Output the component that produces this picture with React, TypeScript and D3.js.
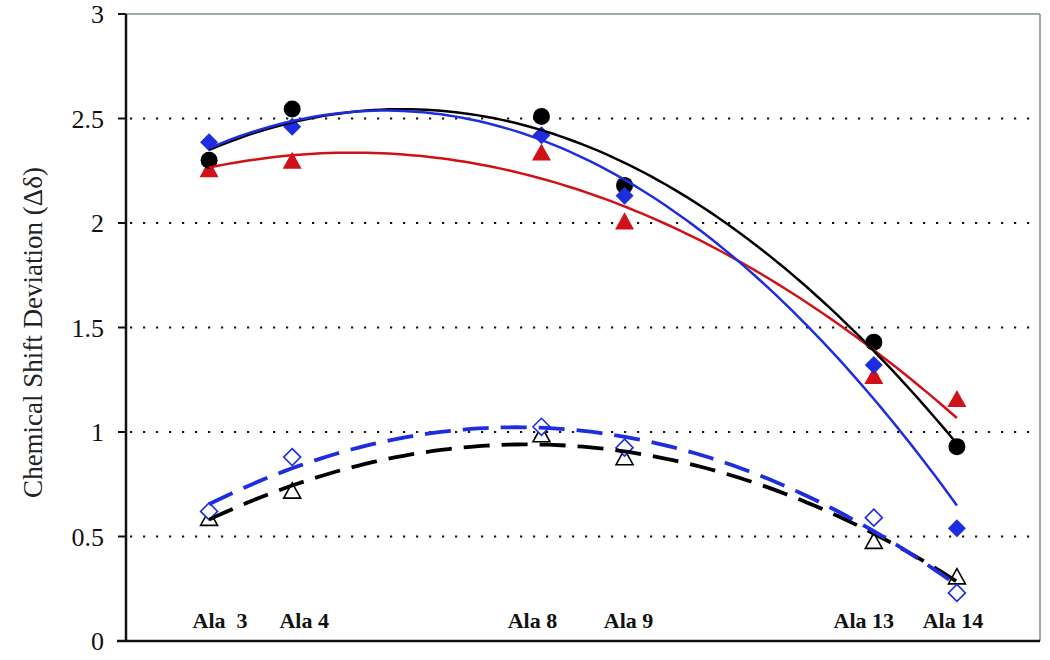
import React from "react";
import * as d3 from "d3";

const categories = ["Ala  3", "Ala 4", "Ala 8", "Ala 9", "Ala 13", "Ala 14"];
const xValues = [1, 2, 5, 6, 9, 10];
const blackCircle = [2.3, 2.545, 2.51, 2.18, 1.43, 0.93];
const blueDiamond = [2.386, 2.46, 2.42, 2.13, 1.32, 0.54];
const redTriangle = [2.26, 2.3, 2.34, 2.01, 1.27, 1.16];
const openDiamond = [0.62, 0.88, 1.025, 0.925, 0.59, 0.23];
const openTriangle = [0.59, 0.72, 0.99, 0.88, 0.48, 0.31];
const yTicks = [0, 0.5, 1, 1.5, 2, 2.5, 3];
const gridTicks = [0.5, 1, 1.5, 2, 2.5];
const labelOffsets = [11, 12, -9, 4, -10, -4];

const W = 1050;
const H = 660;
const left = 126;
const right = 1040;
const top = 14;
const bottom = 641;

const x = d3.scaleLinear().domain([0, 11]).range([left, right]);
const y = d3.scaleLinear().domain([0, 3]).range([bottom, top]);

function quadFit(xs: number[], ys: number[]) {
  const n = xs.length;
  const m = d3.mean(xs) as number;
  const u = xs.map((v) => v - m);
  const su2 = d3.sum(u, (v) => v * v);
  const su3 = d3.sum(u, (v) => v * v * v);
  const su4 = d3.sum(u, (v) => v ** 4);
  const sy = d3.sum(ys);
  const suy = d3.sum(u.map((v, i) => v * ys[i]));
  const su2y = d3.sum(u.map((v, i) => v * v * ys[i]));
  const A = [
    [n, 0, su2, sy],
    [0, su2, su3, suy],
    [su2, su3, su4, su2y],
  ];
  for (let i = 0; i < 3; i++) {
    let p = i;
    for (let r = i + 1; r < 3; r++) if (Math.abs(A[r][i]) > Math.abs(A[p][i])) p = r;
    [A[i], A[p]] = [A[p], A[i]];
    for (let r = 0; r < 3; r++) {
      if (r === i) continue;
      const f = A[r][i] / A[i][i];
      for (let c = i; c < 4; c++) A[r][c] -= f * A[i][c];
    }
  }
  const a = A[0][3] / A[0][0];
  const b = A[1][3] / A[1][1];
  const c = A[2][3] / A[2][2];
  return (xv: number) => {
    const t = xv - m;
    return a + b * t + c * t * t;
  };
}

function trendPath(ys: number[]) {
  const f = quadFit(xValues, ys);
  const x0 = xValues[0];
  const x1 = xValues[xValues.length - 1];
  const pts = d3.range(0, 101).map((i) => x0 + ((x1 - x0) * i) / 100);
  return d3
    .line<number>()
    .x((v) => x(v))
    .y((v) => y(f(v)))(pts) as string;
}

const BLUE = "#1e2de0";
const RED = "#d01218";
const serif = '"Liberation Serif", "DejaVu Serif", Tinos, "Times New Roman", Times, serif';

const diamond = (cx: number, cy: number, r: number) =>
  `M${cx},${cy - r}L${cx + r},${cy}L${cx},${cy + r}L${cx - r},${cy}Z`;
const triangle = (cx: number, cy: number, s: number) => {
  const h = s * 0.9;
  return `M${cx},${cy - h / 2}L${cx + s / 2},${cy + h / 2}L${cx - s / 2},${cy + h / 2}Z`;
};

export default function App() {
  return (
    <svg
      width={W}
      height={H}
      style={{ position: "absolute", left: 0, top: 0, background: "#fff", fontFamily: serif }}
    >
      <rect x={0} y={0} width={W} height={H} fill="#fff" />
      {gridTicks.map((t) => (
        <line
          key={"g" + t}
          x1={left + 4}
          x2={right - 4}
          y1={y(t)}
          y2={y(t)}
          stroke="#111"
          strokeWidth={2.2}
          strokeDasharray="2.2 10.8"
        />
      ))}
      <line x1={left} x2={right} y1={top} y2={top} stroke="#7f8f8f" strokeWidth={1.5} />
      <line x1={right} x2={right} y1={top} y2={bottom} stroke="#7f8f8f" strokeWidth={1.5} />
      <line x1={left} x2={left} y1={top} y2={bottom} stroke="#111" strokeWidth={2.5} />
      <line x1={left - 9} x2={right} y1={bottom} y2={bottom} stroke="#111" strokeWidth={2.5} />
      {yTicks.map((t) => (
        <g key={"t" + t}>
          <line x1={left - 8} x2={left} y1={y(t)} y2={y(t)} stroke="#111" strokeWidth={2} />
          <text
            x={left - 22}
            y={y(t)}
            dy="0.35em"
            textAnchor="end"
            fontSize={26}
            fill="#111"
            style={{ fontFamily: serif }}
          >
            {t}
          </text>
        </g>
      ))}
      <text
        transform={`translate(42, ${(top + bottom) / 2 + 5}) rotate(-90)`}
        textAnchor="middle"
        fontSize={27}
        fill="#222"
        style={{ fontFamily: serif }}
      >
        Chemical Shift Deviation (Δδ)
      </text>
      {categories.map((c, i) => (
        <text
          key={"c" + i}
          x={x(xValues[i]) + labelOffsets[i]}
          y={628}
          textAnchor="middle"
          fontSize={22}
          fontWeight="bold"
          fill="#111"
          style={{ whiteSpace: "pre", fontFamily: serif }}
        >
          {c}
        </text>
      ))}
      {xValues.map((xv, i) => (
        <g key={"m" + i}>
          <path d={triangle(x(xv), y(redTriangle[i]), 19)} fill={RED} />
          <circle cx={x(xv)} cy={y(blackCircle[i])} r={8.5} fill="#000" />
          <path d={diamond(x(xv), y(blueDiamond[i]), 9)} fill={BLUE} />
          <path
            d={triangle(x(xv), y(openTriangle[i]), 17)}
            fill="#fff"
            stroke="#000"
            strokeWidth={1.6}
          />
          <path
            d={diamond(x(xv), y(openDiamond[i]), 8.5)}
            fill="#fff"
            stroke={BLUE}
            strokeWidth={1.6}
          />
        </g>
      ))}
      <path d={trendPath(openTriangle)} fill="none" stroke="#000" strokeWidth={3.8} strokeDasharray="26 12" />
      <path d={trendPath(openDiamond)} fill="none" stroke={BLUE} strokeWidth={3.8} strokeDasharray="26 12" />
      <path d={trendPath(redTriangle)} fill="none" stroke={RED} strokeWidth={2.5} />
      <path d={trendPath(blackCircle)} fill="none" stroke="#000" strokeWidth={2.5} />
      <path d={trendPath(blueDiamond)} fill="none" stroke={BLUE} strokeWidth={2.5} />
    </svg>
  );
}
